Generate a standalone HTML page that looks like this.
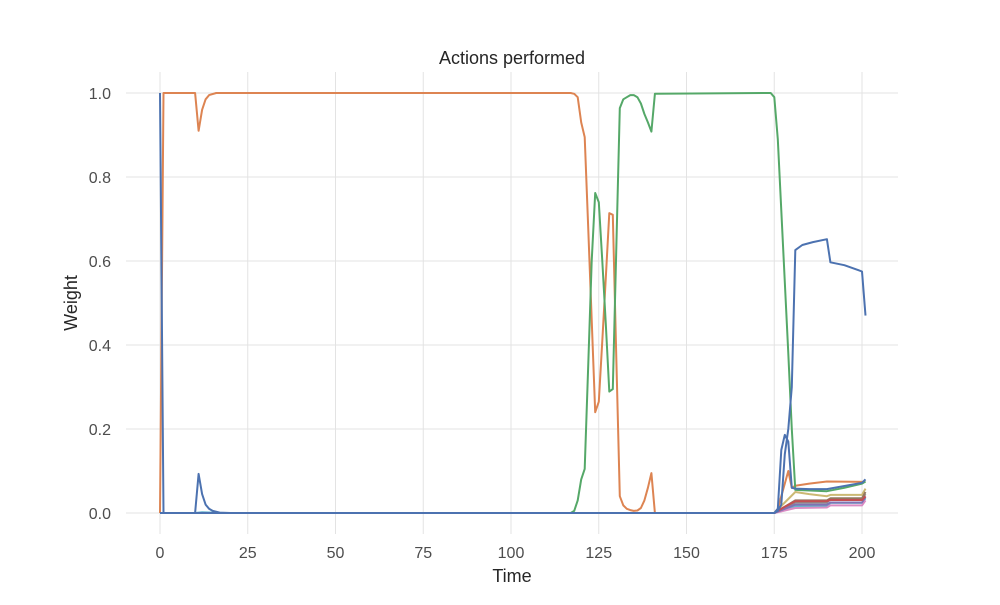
<!DOCTYPE html>
<html><head><meta charset="utf-8"><style>
body{margin:0;background:#fff;}
svg text{font-family:"Liberation Sans",Arial,sans-serif;}
</style></head><body>
<svg id="chart" width="1000" height="600" xmlns="http://www.w3.org/2000/svg">
<rect width="1000" height="600" fill="#fff"/>
<g id="grid"></g>
<g id="ticks"></g>
<g id="lines"></g>
<text x="512" y="64" text-anchor="middle" font-size="18" fill="#262626">Actions performed</text>
<text x="512" y="582" text-anchor="middle" font-size="18" fill="#262626">Time</text>
<text transform="translate(77,303) rotate(-90)" text-anchor="middle" font-size="18" fill="#262626">Weight</text>
</svg>
<script>
const xTicks=[0,25,50,75,100,125,150,175,200];
const yTicks=[0,0.2,0.4,0.6,0.8,1.0];
const yTickLabels=["0.0","0.2","0.4","0.6","0.8","1.0"];
const colors=["#4C72B0","#DD8452","#55A868","#C44E52","#8172B3","#937860","#DA8BC3","#8C8C8C","#CCB974","#64B5CD","#4C72B0"];
const s0t=[0,1,10,11,12,13,14,15,17,20,175,176,177,178,179,180,181,185,190,200,201];
const s0v=[1,0,0,0.093,0.045,0.02,0.01,0.005,0.001,0,0,0.01,0.15,0.186,0.17,0.06,0.058,0.057,0.057,0.072,0.08];
const s1t=[0,1,10,11,12,13,14,16,117,118,119,120,121,122,123,124,125,126,127,128,129,130,131,132,133,134,135,136,137,138,139,140,141,175,176,177,178,179,180,181,185,190,201];
const s1v=[0,1,1,0.91,0.96,0.985,0.995,1,1,0.998,0.99,0.93,0.895,0.68,0.46,0.24,0.265,0.41,0.56,0.714,0.71,0.37,0.04,0.018,0.01,0.007,0.005,0.006,0.012,0.03,0.06,0.095,0,0,0.01,0.04,0.07,0.1,0.06,0.065,0.07,0.075,0.074];
const s2t=[0,117,118,119,120,121,122,123,124,125,126,127,128,129,130,131,132,133,134,135,136,137,138,139,140,141,174,175,176,177,178,179,180,181,190,195,200,201];
const s2v=[0,0,0.005,0.03,0.08,0.105,0.35,0.6,0.762,0.74,0.6,0.45,0.289,0.295,0.63,0.964,0.985,0.99,0.995,0.995,0.99,0.975,0.95,0.93,0.908,0.998,1,0.99,0.89,0.72,0.55,0.38,0.2,0.055,0.052,0.06,0.07,0.075];
const s3t=[0,175,178,181,190,191,200,201];
const s3v=[0,0,0.015,0.028,0.028,0.031,0.031,0.04];
const s4t=[0,175,178,181,190,191,200,201];
const s4v=[0,0,0.01,0.02,0.02,0.025,0.025,0.038];
const s5t=[0,175,178,181,190,191,200,201];
const s5v=[0,0,0.015,0.03,0.03,0.035,0.035,0.05];
const s6t=[0,175,178,181,190,191,200,201];
const s6v=[0,0,0.006,0.012,0.013,0.018,0.018,0.03];
const s7t=[0,175,178,181,190,191,200,201];
const s7v=[0,0,0.012,0.025,0.025,0.033,0.033,0.045];
const s8t=[0,175,178,181,185,190,191,200,201];
const s8v=[0,0,0.025,0.05,0.045,0.04,0.043,0.043,0.058];
const s9t=[0,10,12,15,18,175,178,181,190,191,200,201];
const s9v=[0,0,0.002,0.001,0,0,0.008,0.016,0.016,0.024,0.024,0.035];
const s10t=[0,175,176,177,178,179,180,181,183,186,190,191,195,199,200,201];
const s10v=[0,0,0.005,0.02,0.14,0.2,0.3,0.626,0.638,0.645,0.652,0.597,0.59,0.578,0.575,0.47];
const seriesT=[s0t,s1t,s2t,s3t,s4t,s5t,s6t,s7t,s8t,s9t,s10t];
const seriesV=[s0v,s1v,s2v,s3v,s4v,s5v,s6v,s7v,s8v,s9v,s10v];
const NS="http://www.w3.org/2000/svg";
const X=t=>160+t*(702/200);
const Y=v=>513-v*420;
const L=126,R=898,T=72,B=534;
const grid=document.getElementById('grid'),ticks=document.getElementById('ticks'),lines=document.getElementById('lines');
function mk(tag,attrs,parent){const e=document.createElementNS(NS,tag);for(const k in attrs)e.setAttribute(k,attrs[k]);parent.appendChild(e);return e;}
xTicks.forEach(t=>{
  const g=mk('line',{x1:X(t),x2:X(t),y1:T,y2:B,stroke:'#e3e3e3','stroke-width':1},grid);
  
  
  const tx=mk('text',{x:X(t),y:558,'text-anchor':'middle','font-size':16,fill:'#4d4d4d'},ticks);
  tx.textContent=t;
  
  
});
yTicks.forEach((v,i)=>{
  const g=mk('line',{x1:L,x2:R,y1:Y(v),y2:Y(v),stroke:'#e3e3e3','stroke-width':1},grid);
  
  
  const tx=mk('text',{x:111,y:Y(v)+6,'text-anchor':'end','font-size':16,fill:'#4d4d4d'},ticks);
  tx.textContent=yTickLabels[i];
  
  
});
const order=[9,8,7,6,5,4,3,1,2,10,0];
order.forEach(i=>{
  const ts=seriesT[i],vs=seriesV[i];
  let d=ts.map((t,j)=>(j?'L':'M')+X(t).toFixed(1)+','+Y(vs[j]).toFixed(1)).join(' ');
  const p=mk('path',{d:d,fill:'none',stroke:colors[i],'stroke-width':2,'stroke-linejoin':'round'},lines);
  
  
});
</script>
</body></html>
